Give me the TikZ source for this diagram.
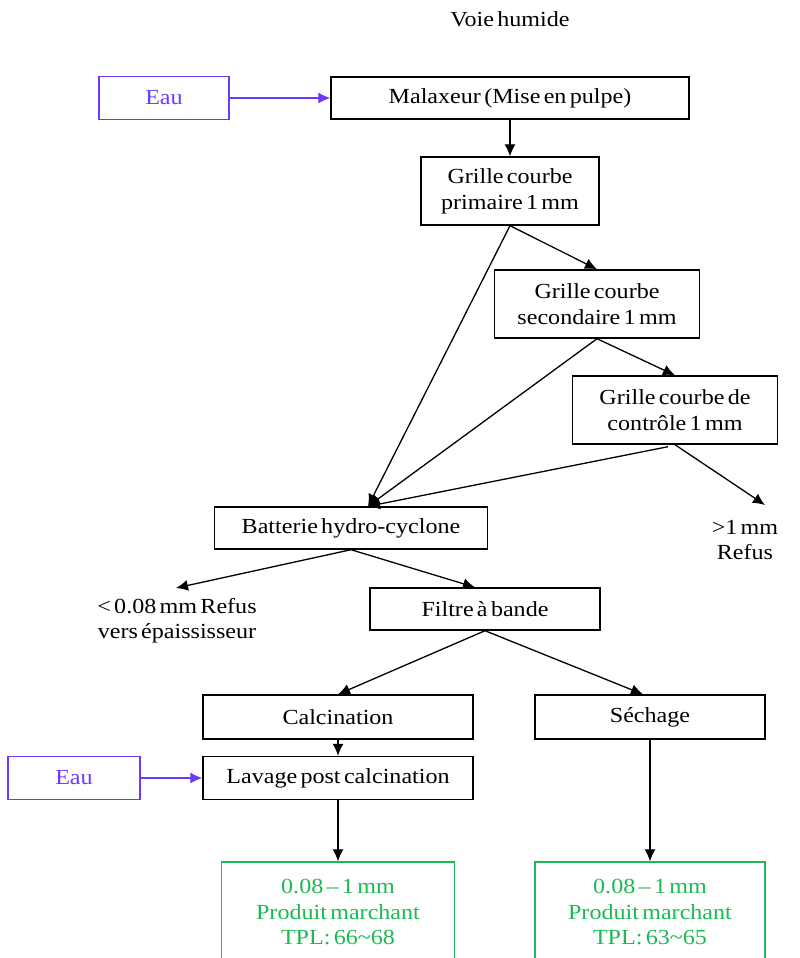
\documentclass[tikz,border=0pt]{standalone}
\usepackage{fontspec}
\setmainfont{Liberation Serif}[FakeStretch=1.12, WordSpace=0.55]
\usetikzlibrary{arrows.meta,calc}
\definecolor{eaublue}{HTML}{6A3BFF}
\definecolor{prodgreen}{HTML}{1DB954}
\tikzset{
  box/.style={draw=black, line width=1.4pt, minimum height=#1, inner sep=0pt, align=center, font=\fontsize{21.5}{26}\selectfont},
  box/.default=42pt,
  eaubox/.style={draw=eaublue, line width=1.4pt, text=eaublue, minimum width=130pt, minimum height=43pt, inner sep=0pt, font=\fontsize{21.5}{26}\selectfont},
  prodbox/.style={draw=prodgreen, line width=1.4pt, text=prodgreen, minimum height=100pt, inner sep=0pt, align=center, font=\fontsize{21.5}{25.5}\selectfont},
  lbl/.style={align=center, inner sep=0pt, font=\fontsize{21.5}{25}\selectfont},
  arr/.style={line width=1.3pt, -{Latex[length=12pt,width=11pt]}},
  barr/.style={line width=1.3pt, draw=eaublue, -{Latex[length=12pt,width=11pt]}, eaublue},
}
\begin{document}
\begin{tikzpicture}[x=1pt,y=-1pt]
\clip (0,0) rectangle (800,958);
\fill[white] (0,0) rectangle (800,958);
\node[lbl] (title) at (510,19) {Voie humide};
\node[eaubox] (eau1) at (164,98) {Eau};
\node[box, minimum width=358pt] (mal) at (510,98) {Malaxeur (Mise en pulpe)};
\node[box=68pt, minimum width=178pt] (g1) at (510,191) {Grille courbe\\primaire 1 mm};
\node[box=68pt, minimum width=205pt] (g2) at (597,304) {Grille courbe\\secondaire 1 mm};
\node[box=68pt, minimum width=205pt] (g3) at (675,410) {Grille courbe de\\contrôle 1 mm};
\node[box, minimum width=273pt] (bat) at (351,528) {Batterie hydro-cyclone};
\node[lbl] (ref1) at (745,540) {>1 mm\\Refus};
\coordinate (ref1in) at (765,505);
\node[lbl] (ref2) at (177,621) {< 0.08 mm Refus\\vers épaississeur};
\coordinate (ref2in) at (176,588);
\node[box, minimum width=230pt] (fil) at (485,609) {Filtre à bande};
\node[box=44pt, minimum width=270pt] (cal) at (338,717) {Calcination};
\node[box=44pt, minimum width=230pt] (sec) at (650,717) {Séchage};
\node[eaubox, minimum width=132pt] (eau2) at (74,778) {Eau};
\node[box=43pt, minimum width=270pt] (lav) at (338,778) {Lavage post calcination};
\node[prodbox, minimum width=233pt] (p1) at (338,912) {0.08 – 1 mm\\Produit marchant\\TPL: 66\textasciitilde 68};
\node[prodbox, minimum width=230pt] (p2) at (650,912) {0.08 – 1 mm\\Produit marchant\\TPL: 63\textasciitilde 65};
\coordinate (batin) at ($(bat.north)+(17,0)$);
\draw[barr] (eau1.east) -- (mal.west);
\draw[arr] (mal.south) -- (g1.north);
\draw[arr] (g1.south) -- (g2.north);
\draw[arr] (g1.south) -- (batin);
\draw[arr] (g2.south) -- (g3.north);
\draw[arr] (g2.south) -- (batin);
\draw[arr] ($(g3.south)+(-7,2)$) -- (batin);
\draw[arr] (g3.south) -- (ref1in);
\draw[arr] (bat.south) -- (ref2in);
\draw[arr] (bat.south) -- ($(fil.north)+(-10,0)$);
\draw[arr] (fil.south) -- (cal.north);
\draw[arr] (fil.south) -- ($(sec.north)+(-7,0)$);
\draw[arr] (cal.south) -- (lav.north);
\draw[barr] (eau2.east) -- (lav.west);
\draw[arr] (lav.south) -- (p1.north);
\draw[arr] (sec.south) -- (p2.north);
\end{tikzpicture}
\end{document}
